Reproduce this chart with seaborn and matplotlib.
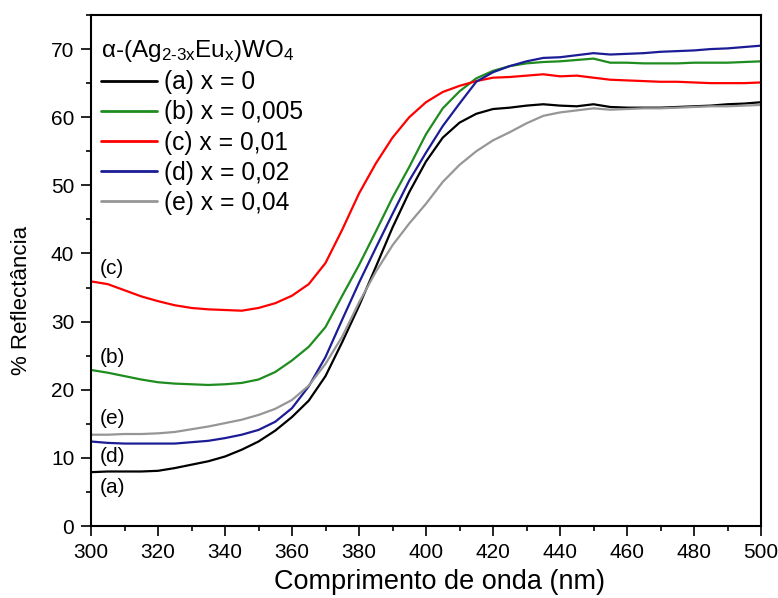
import numpy as np
import pandas as pd
import matplotlib
matplotlib.use("Agg")
import matplotlib.pyplot as plt
import seaborn as sns
from matplotlib.ticker import MultipleLocator

# ---- data ----
wavelength = [300, 305, 310, 315, 320, 325, 330, 335, 340, 345, 350, 355, 360, 365,
              370, 375, 380, 385, 390, 395, 400, 405, 410, 415, 420, 425, 430, 435,
              440, 445, 450, 455, 460, 465, 470, 475, 480, 485, 490, 495, 500]

refl_a = [7.9, 8.0, 8.0, 8.0, 8.1, 8.5, 9.0, 9.5, 10.2, 11.2, 12.4, 14.0, 16.0, 18.4,
          22.0, 27.0, 32.3, 38.0, 43.8, 49.0, 53.5, 57.0, 59.2, 60.5, 61.2, 61.4, 61.7, 61.9,
          61.7, 61.6, 61.9, 61.5, 61.4, 61.4, 61.4, 61.5, 61.6, 61.7, 61.9, 62.0, 62.2]
refl_b = [22.9, 22.5, 22.0, 21.5, 21.1, 20.9, 20.8, 20.7, 20.8, 21.0, 21.5, 22.6, 24.3, 26.3,
          29.2, 33.8, 38.3, 43.2, 48.2, 52.7, 57.5, 61.3, 63.8, 65.7, 66.8, 67.5, 67.9, 68.1,
          68.2, 68.4, 68.6, 68.0, 68.0, 67.9, 67.9, 67.9, 68.0, 68.0, 68.0, 68.1, 68.2]
refl_c = [35.9, 35.5, 34.6, 33.7, 33.0, 32.4, 32.0, 31.8, 31.7, 31.6, 32.0, 32.7, 33.8, 35.5,
          38.6, 43.5, 48.8, 53.2, 57.0, 60.0, 62.2, 63.7, 64.6, 65.3, 65.8, 65.9, 66.1, 66.3,
          66.0, 66.1, 65.8, 65.5, 65.4, 65.3, 65.2, 65.2, 65.1, 65.0, 65.0, 65.0, 65.1]
refl_d = [12.4, 12.2, 12.1, 12.1, 12.1, 12.1, 12.3, 12.5, 12.9, 13.4, 14.1, 15.3, 17.3, 20.5,
          24.8, 30.3, 35.7, 40.8, 45.8, 50.7, 54.8, 58.7, 62.0, 65.2, 66.6, 67.5, 68.2, 68.7,
          68.8, 69.1, 69.4, 69.2, 69.3, 69.4, 69.6, 69.7, 69.8, 70.0, 70.1, 70.3, 70.5]
refl_e = [13.4, 13.4, 13.5, 13.5, 13.6, 13.8, 14.2, 14.6, 15.1, 15.6, 16.3, 17.2, 18.5, 20.6,
          23.8, 27.8, 32.8, 37.3, 41.2, 44.4, 47.3, 50.5, 53.0, 55.0, 56.6, 57.8, 59.1, 60.2,
          60.7, 61.0, 61.3, 61.1, 61.2, 61.3, 61.3, 61.4, 61.5, 61.6, 61.6, 61.7, 61.8]

series_labels = ["(a) x = 0", "(b) x = 0,005", "(c) x = 0,01", "(d) x = 0,02", "(e) x = 0,04"]
series_values = [refl_a, refl_b, refl_c, refl_d, refl_e]
series_colors = ["#000000", "#1e8c1e", "#ff0000", "#1c1c96", "#969696"]

side_labels = ["(c)", "(b)", "(e)", "(d)", "(a)"]
side_label_y = [37.8, 24.8, 15.8, 10.2, 5.6]

legend_title = r"α-(Ag$_{2\text{-}3x}$Eu$_{x}$)WO$_{4}$"
x_label = "Comprimento de onda (nm)"
y_label = "% Reflectância"

# ---- style ----
sns.set_style("ticks")
plt.rcParams["font.family"] = ["Liberation Sans", "DejaVu Sans"]
plt.rcParams["mathtext.fontset"] = "custom"
plt.rcParams["mathtext.rm"] = "Liberation Sans"
plt.rcParams["mathtext.it"] = "Liberation Sans"
plt.rcParams["mathtext.default"] = "regular"
for key in ["text.color", "axes.labelcolor", "xtick.color", "ytick.color", "axes.edgecolor"]:
    plt.rcParams[key] = "black"

df = pd.concat(
    [pd.DataFrame({"nm": wavelength, "R": vals, "sample": lab})
     for lab, vals in zip(series_labels, series_values)],
    ignore_index=True,
)

fig = plt.figure(figsize=(7.78, 5.98), dpi=100)
ax = fig.add_axes([91 / 778, 72 / 598, 670 / 778, 511 / 598])

sns.lineplot(data=df, x="nm", y="R", hue="sample", hue_order=series_labels,
             palette=dict(zip(series_labels, series_colors)), linewidth=1.6,
             estimator=None, sort=False, ax=ax)

ax.set_xlim(300, 500)
ax.set_ylim(0, 75)
ax.xaxis.set_major_locator(MultipleLocator(20))
ax.xaxis.set_minor_locator(MultipleLocator(10))
ax.yaxis.set_major_locator(MultipleLocator(10))
ax.yaxis.set_minor_locator(MultipleLocator(5))
ax.tick_params(which="major", direction="out", length=7.5, width=1.2, labelsize=15,
               pad=4.5, top=False, right=False, colors="black")
ax.tick_params(which="minor", direction="out", length=3.8, width=1.2, top=False, right=False)
for sp in ax.spines.values():
    sp.set_visible(True)
    sp.set_linewidth(1.5)
    sp.set_color("black")

ax.set_xlabel(x_label, fontsize=19.5)
ax.set_ylabel(y_label, fontsize=16)
ax.xaxis.set_label_coords((440 - 91) / 670, -0.085)
ax.yaxis.set_label_coords(-0.088, (526 - 300) / 511)

for lab, yv in zip(side_labels, side_label_y):
    ax.text(302.7, yv, lab, fontsize=15, ha="left", va="center", color="black")

handles, labels = ax.get_legend_handles_labels()
leg = ax.legend(handles, labels, title=legend_title, loc="upper left",
                bbox_to_anchor=(0.0, 0.974), frameon=False, fontsize=17.7,
                title_fontsize=17.5, alignment="left", handlelength=2.3,
                handletextpad=0.25, labelspacing=0.25, borderaxespad=0.0,
                borderpad=0.4)
for h in leg.get_lines():
    h.set_linewidth(2.0)
for t in leg.get_texts():
    t.set_color("black")
leg.get_title().set_color("black")

fig.savefig("out.png", dpi=100)
